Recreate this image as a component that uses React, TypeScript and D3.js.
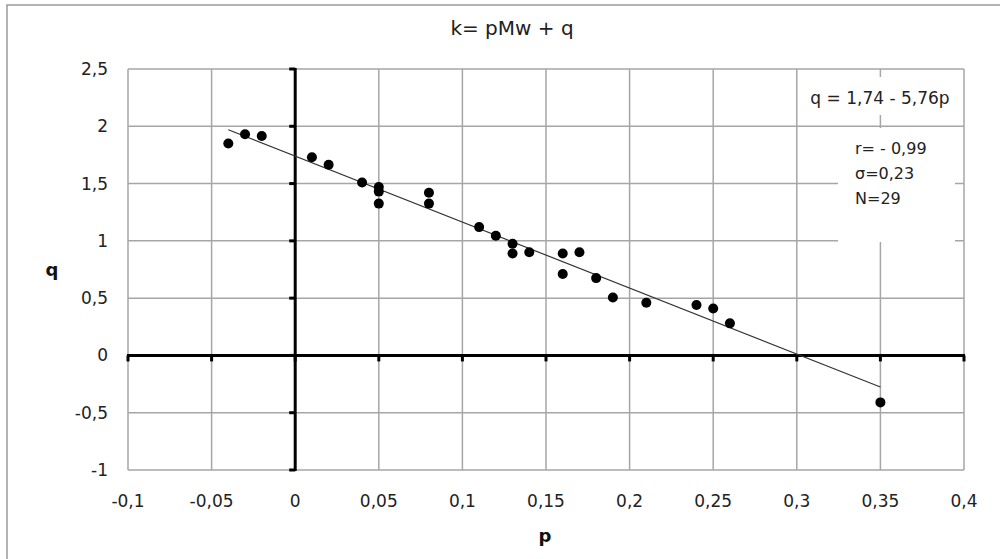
import React, { useEffect, useRef } from 'react';
import * as d3 from 'd3';

// measured points (p, q)
const pValues = [-0.04, -0.03, -0.02, 0.01, 0.02, 0.04, 0.05, 0.05, 0.05, 0.08, 0.08, 0.11, 0.12, 0.13, 0.13, 0.14, 0.16, 0.17, 0.16, 0.18, 0.19, 0.21, 0.24, 0.25, 0.26, 0.35];
const qValues = [1.85, 1.93, 1.915, 1.73, 1.665, 1.51, 1.47, 1.43, 1.325, 1.42, 1.325, 1.12, 1.045, 0.975, 0.89, 0.9, 0.89, 0.9, 0.71, 0.675, 0.505, 0.46, 0.44, 0.41, 0.28, -0.41];

// regression line endpoints
const trendP = [-0.04, 0.35];
const trendQ = [1.97, -0.276];

const xTicks = [-0.1, -0.05, 0, 0.05, 0.1, 0.15, 0.2, 0.25, 0.3, 0.35, 0.4];
const yTicks = [-1, -0.5, 0, 0.5, 1, 1.5, 2, 2.5];

const title = 'k= pMw + q';
const equation = 'q = 1,74 - 5,76p';
const stats = ['r= - 0,99', 'σ=0,23', 'N=29'];

const FONT = '"DejaVu Sans", sans-serif';

const App = () => {
  const svgRef = useRef<SVGSVGElement>(null);

  useEffect(() => {
    const width = 1000;
    const height = 559;
    const plot = { left: 128, right: 964, top: 69, bottom: 470 };

    const svg = d3.select(svgRef.current);
    svg.selectAll('*').remove();
    svg.attr('width', width).attr('height', height);

    const fmt = (d: number) => String(d).replace('.', ',');

    const x = d3.scaleLinear().domain([-0.1, 0.4]).range([plot.left, plot.right]);
    const y = d3.scaleLinear().domain([-1, 2.5]).range([plot.bottom, plot.top]);

    svg.append('rect')
      .attr('width', width).attr('height', height).attr('fill', '#fff');

    // outer chart border (clipped on right and bottom)
    svg.append('rect')
      .attr('x', 7).attr('y', 5).attr('width', 1000).attr('height', 600)
      .attr('fill', 'none').attr('stroke', '#9a9a9a').attr('stroke-width', 1.5);

    svg.append('text')
      .attr('x', 512).attr('y', 35)
      .attr('text-anchor', 'middle')
      .style('font-family', FONT).style('font-size', '20px').attr('fill', '#222')
      .text(title);

    // grid
    const grid = svg.append('g').attr('stroke', '#a6a6a6').attr('stroke-width', 1.5);
    xTicks.forEach(t => {
      grid.append('line').attr('x1', x(t)).attr('x2', x(t)).attr('y1', plot.top).attr('y2', plot.bottom);
    });
    yTicks.forEach(t => {
      grid.append('line').attr('x1', plot.left).attr('x2', plot.right).attr('y1', y(t)).attr('y2', y(t));
    });

    // annotation backgrounds hide the grid
    svg.append('rect').attr('x', 808).attr('y', 77).attr('width', 148).attr('height', 38).attr('fill', '#fff');
    svg.append('rect').attr('x', 838).attr('y', 128).attr('width', 117).attr('height', 114).attr('fill', '#fff');

    svg.append('text')
      .attr('x', 880).attr('y', 104)
      .attr('text-anchor', 'middle')
      .style('font-family', FONT).style('font-size', '17px').attr('fill', '#222')
      .text(equation);

    svg.append('g')
      .selectAll('text')
      .data(stats)
      .enter()
      .append('text')
      .attr('x', 855)
      .attr('y', (_, i) => 154 + i * 25)
      .style('font-family', FONT).style('font-size', '16px').attr('fill', '#222')
      .text(d => d);

    // main axes through zero
    const axes = svg.append('g').attr('stroke', '#000').attr('stroke-width', 3);
    axes.append('line').attr('x1', x(0)).attr('x2', x(0)).attr('y1', plot.top - 1).attr('y2', plot.bottom + 1);
    axes.append('line').attr('x1', plot.left - 1).attr('x2', plot.right + 1).attr('y1', y(0)).attr('y2', y(0));
    xTicks.forEach(t => {
      axes.append('line').attr('x1', x(t)).attr('x2', x(t)).attr('y1', y(0)).attr('y2', y(0) + 6);
    });
    yTicks.forEach(t => {
      axes.append('line').attr('x1', x(0) - 6).attr('x2', x(0)).attr('y1', y(t)).attr('y2', y(t));
    });

    // tick labels
    svg.append('g')
      .selectAll('text')
      .data(xTicks)
      .enter()
      .append('text')
      .attr('x', d => x(d))
      .attr('y', 507)
      .attr('text-anchor', 'middle')
      .style('font-family', FONT).style('font-size', '17px').attr('fill', '#222')
      .text(d => fmt(d));

    svg.append('g')
      .selectAll('text')
      .data(yTicks)
      .enter()
      .append('text')
      .attr('x', 108)
      .attr('y', d => y(d) + 6)
      .attr('text-anchor', 'end')
      .style('font-family', FONT).style('font-size', '17px').attr('fill', '#222')
      .text(d => fmt(d));

    svg.append('text')
      .attr('x', 545).attr('y', 542)
      .attr('text-anchor', 'middle')
      .style('font-family', FONT).style('font-size', '18px').style('font-weight', 'bold').attr('fill', '#111')
      .text('p');

    svg.append('text')
      .attr('x', 52).attr('y', 276)
      .attr('text-anchor', 'middle')
      .style('font-family', FONT).style('font-size', '18px').style('font-weight', 'bold').attr('fill', '#111')
      .text('q');

    // trend line
    svg.append('line')
      .attr('x1', x(trendP[0])).attr('y1', y(trendQ[0]))
      .attr('x2', x(trendP[1])).attr('y2', y(trendQ[1]))
      .attr('stroke', '#333').attr('stroke-width', 1.2);

    svg.append('g')
      .selectAll('circle')
      .data(pValues.map((p, i) => [p, qValues[i]]))
      .enter()
      .append('circle')
      .attr('cx', d => x(d[0]))
      .attr('cy', d => y(d[1]))
      .attr('r', 5)
      .attr('fill', '#000');
  }, []);

  return <svg ref={svgRef} style={{ position: 'absolute', left: 0, top: 0, display: 'block' }}></svg>;
};

export default App;
